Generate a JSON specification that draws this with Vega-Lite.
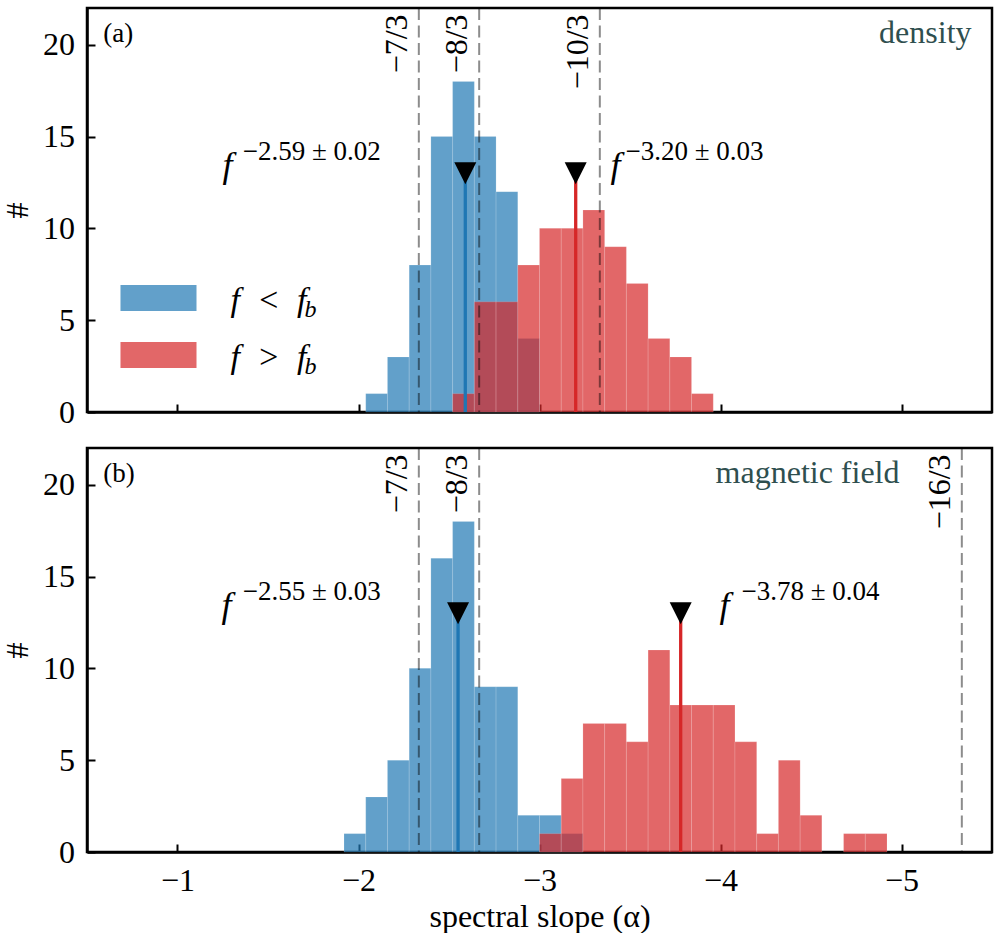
{
  "$schema": "https://vega.github.io/schema/vega-lite/v6.json",
  "autosize": {"type": "pad"},
  "padding": {"left": 0, "top": 5, "right": 0, "bottom": 0},
  "bounds": "flush",
  "spacing": 36,
  "background": "white",
  "config": {
    "view": {"stroke": "black", "strokeWidth": 2.5},
    "axis": {
      "labelFont": "Liberation Serif", "labelFontSize": 32, "labelColor": "black",
      "titleFont": "Liberation Serif", "titleFontSize": 32, "titleFontWeight": "normal", "titleColor": "black",
      "domainColor": "black", "domainWidth": 2.5, "tickColor": "black", "tickWidth": 2, "tickSize": -8,
      "grid": false, "labelFlush": false, "labelOverlap": false
    },
    "axisX": {"labelPadding": 21, "titlePadding": 5},
    "axisY": {"labelPadding": 20.5, "titlePadding": 8}
  },
  "datasets": {
    "bars": [
      {"panel": "a", "series": "low", "x": -2.04, "x2": -2.16, "y": 1},
      {"panel": "a", "series": "low", "x": -2.16, "x2": -2.28, "y": 3},
      {"panel": "a", "series": "low", "x": -2.28, "x2": -2.40, "y": 8},
      {"panel": "a", "series": "low", "x": -2.40, "x2": -2.52, "y": 15},
      {"panel": "a", "series": "low", "x": -2.52, "x2": -2.64, "y": 18},
      {"panel": "a", "series": "low", "x": -2.64, "x2": -2.76, "y": 15},
      {"panel": "a", "series": "low", "x": -2.76, "x2": -2.88, "y": 12},
      {"panel": "a", "series": "low", "x": -2.88, "x2": -3.00, "y": 4},
      {"panel": "a", "series": "high", "x": -2.52, "x2": -2.64, "y": 1},
      {"panel": "a", "series": "high", "x": -2.64, "x2": -2.76, "y": 6},
      {"panel": "a", "series": "high", "x": -2.76, "x2": -2.88, "y": 6},
      {"panel": "a", "series": "high", "x": -2.88, "x2": -3.00, "y": 8},
      {"panel": "a", "series": "high", "x": -3.00, "x2": -3.12, "y": 10},
      {"panel": "a", "series": "high", "x": -3.12, "x2": -3.24, "y": 10},
      {"panel": "a", "series": "high", "x": -3.24, "x2": -3.36, "y": 11},
      {"panel": "a", "series": "high", "x": -3.36, "x2": -3.48, "y": 9},
      {"panel": "a", "series": "high", "x": -3.48, "x2": -3.60, "y": 7},
      {"panel": "a", "series": "high", "x": -3.60, "x2": -3.72, "y": 4},
      {"panel": "a", "series": "high", "x": -3.72, "x2": -3.84, "y": 3},
      {"panel": "a", "series": "high", "x": -3.84, "x2": -3.96, "y": 1},
      {"panel": "b", "series": "low", "x": -1.92, "x2": -2.04, "y": 1},
      {"panel": "b", "series": "low", "x": -2.04, "x2": -2.16, "y": 3},
      {"panel": "b", "series": "low", "x": -2.16, "x2": -2.28, "y": 5},
      {"panel": "b", "series": "low", "x": -2.28, "x2": -2.40, "y": 10},
      {"panel": "b", "series": "low", "x": -2.40, "x2": -2.52, "y": 16},
      {"panel": "b", "series": "low", "x": -2.52, "x2": -2.64, "y": 18},
      {"panel": "b", "series": "low", "x": -2.64, "x2": -2.76, "y": 9},
      {"panel": "b", "series": "low", "x": -2.76, "x2": -2.88, "y": 9},
      {"panel": "b", "series": "low", "x": -2.88, "x2": -3.00, "y": 2},
      {"panel": "b", "series": "low", "x": -3.00, "x2": -3.12, "y": 2},
      {"panel": "b", "series": "low", "x": -3.12, "x2": -3.24, "y": 1},
      {"panel": "b", "series": "high", "x": -3.00, "x2": -3.12, "y": 1},
      {"panel": "b", "series": "high", "x": -3.12, "x2": -3.24, "y": 4},
      {"panel": "b", "series": "high", "x": -3.24, "x2": -3.36, "y": 7},
      {"panel": "b", "series": "high", "x": -3.36, "x2": -3.48, "y": 7},
      {"panel": "b", "series": "high", "x": -3.48, "x2": -3.60, "y": 6},
      {"panel": "b", "series": "high", "x": -3.60, "x2": -3.72, "y": 11},
      {"panel": "b", "series": "high", "x": -3.72, "x2": -3.84, "y": 8},
      {"panel": "b", "series": "high", "x": -3.84, "x2": -3.96, "y": 8},
      {"panel": "b", "series": "high", "x": -3.96, "x2": -4.08, "y": 8},
      {"panel": "b", "series": "high", "x": -4.08, "x2": -4.20, "y": 6},
      {"panel": "b", "series": "high", "x": -4.20, "x2": -4.32, "y": 1},
      {"panel": "b", "series": "high", "x": -4.32, "x2": -4.44, "y": 5},
      {"panel": "b", "series": "high", "x": -4.44, "x2": -4.56, "y": 2},
      {"panel": "b", "series": "high", "x": -4.68, "x2": -4.80, "y": 1},
      {"panel": "b", "series": "high", "x": -4.80, "x2": -4.92, "y": 1}
    ],
    "medians": [
      {"panel": "a", "series": "low", "x": -2.59, "y": 13},
      {"panel": "a", "series": "high", "x": -3.20, "y": 13},
      {"panel": "b", "series": "low", "x": -2.55, "y": 13},
      {"panel": "b", "series": "high", "x": -3.78, "y": 13}
    ],
    "refs": [
      {"panel": "a", "x": -2.3333, "lx": -2.211, "label": "−7/3"},
      {"panel": "a", "x": -2.6667, "lx": -2.545, "label": "−8/3"},
      {"panel": "a", "x": -3.3333, "lx": -3.211, "label": "−10/3"},
      {"panel": "b", "x": -2.3333, "lx": -2.211, "label": "−7/3"},
      {"panel": "b", "x": -2.6667, "lx": -2.545, "label": "−8/3"},
      {"panel": "b", "x": -5.3333, "lx": -5.211, "label": "−16/3"}
    ],
    "notes": [
      {"panel": "a", "kind": "f", "x": -1.249, "y": 12.8, "text": "f"},
      {"panel": "a", "kind": "f", "x": -3.392, "y": 12.8, "text": "f"},
      {"panel": "b", "kind": "f", "x": -1.243, "y": 12.8, "text": "f"},
      {"panel": "b", "kind": "f", "x": -3.995, "y": 12.8, "text": "f"},
      {"panel": "a", "kind": "exp", "x": -1.36, "y": 13.7, "text": "−2.59 ± 0.02"},
      {"panel": "a", "kind": "exp", "x": -3.475, "y": 13.7, "text": "−3.20 ± 0.03"},
      {"panel": "b", "kind": "exp", "x": -1.36, "y": 13.7, "text": "−2.55 ± 0.03"},
      {"panel": "b", "kind": "exp", "x": -4.116, "y": 13.7, "text": "−3.78 ± 0.04"},
      {"panel": "a", "kind": "tag", "x": -0.59, "y": 20.14, "text": "(a)"},
      {"panel": "b", "kind": "tag", "x": -0.59, "y": 20.14, "text": "(b)"},
      {"panel": "a", "kind": "name", "x": -5.387, "y": 20.1, "text": "density"},
      {"panel": "b", "kind": "name", "x": -4.989, "y": 20.1, "text": "magnetic field"}
    ],
    "legendPatches": [
      {"series": "low", "x": -0.685, "x2": -1.105, "y": 6.92, "y2": 5.50},
      {"series": "high", "x": -0.685, "x2": -1.105, "y": 3.81, "y2": 2.40}
    ],
    "legendText": [
      {"kind": "main", "x": -1.293, "y": 5.50, "text": "f\u2002<\u2002f"},
      {"kind": "sub", "x": -1.702, "y": 5.18, "text": "b"},
      {"kind": "main", "x": -1.293, "y": 2.40, "text": "f\u2002>\u2002f"},
      {"kind": "sub", "x": -1.702, "y": 2.07, "text": "b"}
    ]
  },
  "vconcat": [
    {
      "width": 905,
      "height": 404,
      "encoding": {
        "x": {"field": "x", "type": "quantitative", "scale": {"domain": [-0.5, -5.5], "nice": false, "zero": false}, "axis": {"values": [-1, -2, -3, -4, -5], "labels": false, "title": null}}
      },
      "layer": [
        {
          "data": {"name": "bars"},
          "transform": [{"filter": "datum.panel === 'a'"}],
          "mark": {"type": "rect", "fillOpacity": 0.7, "stroke": "white", "strokeWidth": 0.6, "strokeOpacity": 0.25},
          "encoding": {
            "x2": {"field": "x2"},
            "y": {"field": "y", "type": "quantitative", "scale": {"domain": [0, 22], "nice": false, "zero": false}, "axis": {"values": [0, 5, 10, 15, 20], "title": "#"}},
            "y2": {"datum": 0},
            "fill": {"field": "series", "type": "nominal", "scale": {"domain": ["low", "high"], "range": ["#1f77b4", "#d62728"]}, "legend": null}
          }
        },
        {
          "data": {"name": "refs"},
          "transform": [{"filter": "datum.panel === 'a'"}],
          "mark": {"type": "rule", "stroke": "black", "strokeOpacity": 0.45, "strokeWidth": 2, "strokeDash": [12, 5.5]},
          "encoding": {}
        },
        {
          "data": {"name": "refs"},
          "transform": [{"filter": "datum.panel === 'a'"}],
          "mark": {"type": "text", "font": "Liberation Serif", "fontSize": 32, "angle": 270, "align": "right", "baseline": "middle", "color": "black"},
          "encoding": {"x": {"field": "lx", "type": "quantitative"}, "y": {"datum": 21.65, "type": "quantitative"}, "text": {"field": "label", "type": "nominal"}}
        },
        {
          "data": {"name": "medians"},
          "transform": [{"filter": "datum.panel === 'a'"}],
          "mark": {"type": "rule", "strokeWidth": 3.3},
          "encoding": {
            "y": {"field": "y", "type": "quantitative"},
            "y2": {"datum": 0},
            "stroke": {"field": "series", "type": "nominal", "scale": {"domain": ["low", "high"], "range": ["#1f77b4", "#d62728"]}, "legend": null}
          }
        },
        {
          "data": {"name": "medians"},
          "transform": [{"filter": "datum.panel === 'a'"}],
          "mark": {"type": "point", "shape": "M-1,-1L1,-1L0,1Z", "filled": true, "color": "black", "opacity": 1, "size": 484},
          "encoding": {"y": {"field": "y", "type": "quantitative"}}
        },
        {
          "data": {"name": "notes"},
          "transform": [{"filter": "datum.panel === 'a' && datum.kind === 'f'"}],
          "mark": {"type": "text", "font": "Liberation Serif", "fontStyle": "italic", "fontSize": 36, "align": "left", "baseline": "alphabetic", "color": "black"},
          "encoding": {"y": {"field": "y", "type": "quantitative"}, "text": {"field": "text"}}
        },
        {
          "data": {"name": "notes"},
          "transform": [{"filter": "datum.panel === 'a' && datum.kind === 'exp'"}],
          "mark": {"type": "text", "font": "Liberation Serif", "fontSize": 27, "align": "left", "baseline": "alphabetic", "color": "black"},
          "encoding": {"y": {"field": "y", "type": "quantitative"}, "text": {"field": "text"}}
        },
        {
          "data": {"name": "notes"},
          "transform": [{"filter": "datum.panel === 'a' && datum.kind === 'tag'"}],
          "mark": {"type": "text", "font": "Liberation Serif", "fontSize": 27, "align": "left", "baseline": "alphabetic", "color": "black"},
          "encoding": {"y": {"field": "y", "type": "quantitative"}, "text": {"field": "text"}}
        },
        {
          "data": {"name": "notes"},
          "transform": [{"filter": "datum.panel === 'a' && datum.kind === 'name'"}],
          "mark": {"type": "text", "font": "Liberation Serif", "fontSize": 32, "align": "right", "baseline": "alphabetic", "color": "#2f4f4f"},
          "encoding": {"y": {"field": "y", "type": "quantitative"}, "text": {"field": "text"}}
        },
        {
          "data": {"name": "legendPatches"},
          "mark": {"type": "rect", "fillOpacity": 0.7},
          "encoding": {
            "x2": {"field": "x2"},
            "y": {"field": "y", "type": "quantitative"},
            "y2": {"field": "y2"},
            "fill": {"field": "series", "type": "nominal", "scale": {"domain": ["low", "high"], "range": ["#1f77b4", "#d62728"]}, "legend": null}
          }
        },
        {
          "data": {"name": "legendText"},
          "transform": [{"filter": "datum.kind === 'main'"}],
          "mark": {"type": "text", "font": "Liberation Serif", "fontStyle": "italic", "fontSize": 34, "align": "left", "baseline": "alphabetic", "color": "black"},
          "encoding": {"y": {"field": "y", "type": "quantitative"}, "text": {"field": "text"}}
        },
        {
          "data": {"name": "legendText"},
          "transform": [{"filter": "datum.kind === 'sub'"}],
          "mark": {"type": "text", "font": "Liberation Serif", "fontStyle": "italic", "fontSize": 24, "align": "left", "baseline": "alphabetic", "color": "black"},
          "encoding": {"y": {"field": "y", "type": "quantitative"}, "text": {"field": "text"}}
        }
      ]
    },
    {
      "width": 905,
      "height": 404,
      "encoding": {
        "x": {"field": "x", "type": "quantitative", "scale": {"domain": [-0.5, -5.5], "nice": false, "zero": false}, "axis": {"values": [-1, -2, -3, -4, -5], "title": "spectral slope (α)"}}
      },
      "layer": [
        {
          "data": {"name": "bars"},
          "transform": [{"filter": "datum.panel === 'b'"}],
          "mark": {"type": "rect", "fillOpacity": 0.7, "stroke": "white", "strokeWidth": 0.6, "strokeOpacity": 0.25},
          "encoding": {
            "x2": {"field": "x2"},
            "y": {"field": "y", "type": "quantitative", "scale": {"domain": [0, 22], "nice": false, "zero": false}, "axis": {"values": [0, 5, 10, 15, 20], "title": "#"}},
            "y2": {"datum": 0},
            "fill": {"field": "series", "type": "nominal", "scale": {"domain": ["low", "high"], "range": ["#1f77b4", "#d62728"]}, "legend": null}
          }
        },
        {
          "data": {"name": "refs"},
          "transform": [{"filter": "datum.panel === 'b'"}],
          "mark": {"type": "rule", "stroke": "black", "strokeOpacity": 0.45, "strokeWidth": 2, "strokeDash": [12, 5.5]},
          "encoding": {}
        },
        {
          "data": {"name": "refs"},
          "transform": [{"filter": "datum.panel === 'b'"}],
          "mark": {"type": "text", "font": "Liberation Serif", "fontSize": 32, "angle": 270, "align": "right", "baseline": "middle", "color": "black"},
          "encoding": {"x": {"field": "lx", "type": "quantitative", "title": "spectral slope (α)"}, "y": {"datum": 21.65, "type": "quantitative"}, "text": {"field": "label", "type": "nominal"}}
        },
        {
          "data": {"name": "medians"},
          "transform": [{"filter": "datum.panel === 'b'"}],
          "mark": {"type": "rule", "strokeWidth": 3.3},
          "encoding": {
            "y": {"field": "y", "type": "quantitative"},
            "y2": {"datum": 0},
            "stroke": {"field": "series", "type": "nominal", "scale": {"domain": ["low", "high"], "range": ["#1f77b4", "#d62728"]}, "legend": null}
          }
        },
        {
          "data": {"name": "medians"},
          "transform": [{"filter": "datum.panel === 'b'"}],
          "mark": {"type": "point", "shape": "M-1,-1L1,-1L0,1Z", "filled": true, "color": "black", "opacity": 1, "size": 484},
          "encoding": {"y": {"field": "y", "type": "quantitative"}}
        },
        {
          "data": {"name": "notes"},
          "transform": [{"filter": "datum.panel === 'b' && datum.kind === 'f'"}],
          "mark": {"type": "text", "font": "Liberation Serif", "fontStyle": "italic", "fontSize": 36, "align": "left", "baseline": "alphabetic", "color": "black"},
          "encoding": {"y": {"field": "y", "type": "quantitative"}, "text": {"field": "text"}}
        },
        {
          "data": {"name": "notes"},
          "transform": [{"filter": "datum.panel === 'b' && datum.kind === 'exp'"}],
          "mark": {"type": "text", "font": "Liberation Serif", "fontSize": 27, "align": "left", "baseline": "alphabetic", "color": "black"},
          "encoding": {"y": {"field": "y", "type": "quantitative"}, "text": {"field": "text"}}
        },
        {
          "data": {"name": "notes"},
          "transform": [{"filter": "datum.panel === 'b' && datum.kind === 'tag'"}],
          "mark": {"type": "text", "font": "Liberation Serif", "fontSize": 27, "align": "left", "baseline": "alphabetic", "color": "black"},
          "encoding": {"y": {"field": "y", "type": "quantitative"}, "text": {"field": "text"}}
        },
        {
          "data": {"name": "notes"},
          "transform": [{"filter": "datum.panel === 'b' && datum.kind === 'name'"}],
          "mark": {"type": "text", "font": "Liberation Serif", "fontSize": 32, "align": "right", "baseline": "alphabetic", "color": "#2f4f4f"},
          "encoding": {"y": {"field": "y", "type": "quantitative"}, "text": {"field": "text"}}
        }
      ]
    }
  ]
}
